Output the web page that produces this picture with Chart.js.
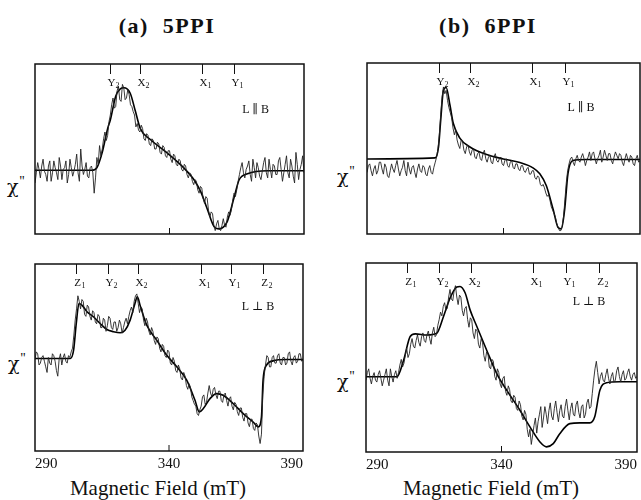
<!DOCTYPE html>
<html>
<head>
<meta charset="utf-8">
<script src="https://cdn.jsdelivr.net/npm/chart.js@4.4.1/dist/chart.umd.min.js"></script>
<style>
body { margin: 0; background: #fff; width: 641px; height: 500px; position: relative; overflow: hidden; font-family: "Liberation Serif", "DejaVu Serif", serif; color: #111; }
canvas { position: absolute; }
.lbl { position: absolute; text-align: center; white-space: pre; }
.title { font-size: 22px; font-weight: bold; line-height: 22px; width: 240px; letter-spacing: 1.5px; }
.xt { font-size: 21px; line-height: 22px; width: 240px; }
.chi { font-family: "DejaVu Serif", serif; font-size: 19px; line-height: 20px; text-align: left; color: #111; }
.chi span { font-family: "Liberation Serif", serif; font-size: 14px; vertical-align: 7px; margin-left: 1px; color: #111; }
</style>
</head>
<body>
<div class="lbl title" style="left:47px;top:15px">(a)  5PPI</div>
<div class="lbl title" style="left:368px;top:15px">(b)  6PPI</div>
<div class="lbl chi" style="left:7px;top:172px">χ<span>''</span></div>
<div class="lbl chi" style="left:8px;top:349px">χ<span>''</span></div>
<div class="lbl chi" style="left:337px;top:162px">χ<span>''</span></div>
<div class="lbl chi" style="left:337px;top:367px">χ<span>''</span></div>
<div class="lbl xt" style="left:38px;top:477px">Magnetic Field (mT)</div>
<div class="lbl xt" style="left:371px;top:477px">Magnetic Field (mT)</div>

<canvas id="aTop" width="271" height="192" style="left:34px;top:63px"></canvas>
<canvas id="aBot" width="276" height="208" style="left:31px;top:263px"></canvas>
<canvas id="bTop" width="275" height="193" style="left:366px;top:62px"></canvas>
<canvas id="bBot" width="279" height="210" style="left:362px;top:262px"></canvas>

<script>
// field grid of the measured spectra (mT)
const fields = [
  290,290.5,291,291.5,292,292.5,293,293.5,294,294.5,295,295.5,296,296.5,297,297.5,298,298.5,299,299.5,
  300,300.5,301,301.5,302,302.5,303,303.5,304,304.5,305,305.5,306,306.5,307,307.5,308,308.5,309,309.5,
  310,310.5,311,311.5,312,312.5,313,313.5,314,314.5,315,315.5,316,316.5,317,317.5,318,318.5,319,319.5,
  320,320.5,321,321.5,322,322.5,323,323.5,324,324.5,325,325.5,326,326.5,327,327.5,328,328.5,329,329.5,
  330,330.5,331,331.5,332,332.5,333,333.5,334,334.5,335,335.5,336,336.5,337,337.5,338,338.5,339,339.5,
  340,340.5,341,341.5,342,342.5,343,343.5,344,344.5,345,345.5,346,346.5,347,347.5,348,348.5,349,349.5,
  350,350.5,351,351.5,352,352.5,353,353.5,354,354.5,355,355.5,356,356.5,357,357.5,358,358.5,359,359.5,
  360,360.5,361,361.5,362,362.5,363,363.5,364,364.5,365,365.5,366,366.5,367,367.5,368,368.5,369,369.5,
  370,370.5,371,371.5,372,372.5,373,373.5,374,374.5,375,375.5,376,376.5,377,377.5,378,378.5,379,379.5,
  380,380.5,381,381.5,382,382.5,383,383.5,384,384.5,385,385.5,386,386.5,387,387.5,388,388.5,389,389.5,
  390];

// (a) 5PPI, L || B
const aTopMeasured = [
  30,36,42,38,33,40,44,37,35,31, 40,43,31,36,43,39,36,32,45,40,
  32,38,39,43,30,35,44,39,34,37, 41,47,36,31,50,40,35,38,42,34,
  33,39,40,36,24,33,45,41,52,46, 50,56,60,55,58,66,70,76,80,74,
  75,84,87,79,78,88,86,79,80,85, 82,76,75,72,70,63,65,61,60,64,
  62,56,55,59,58,53,52,56,55,50, 50,54,53,48,47,52,51,46,45,49,
  49,44,42,47,46,41,40,44,43,38, 37,41,40,35,33,36,35,31,29,32,
  31,26,24,28,27,21,18,22,21,14, 10,13,12,5,2,6,8,3,2,5,
  9,5,4,10,13,11,14,20,24,22, 26,31,35,39,42,36,33,38,40,43,
  35,31,44,39,33,42,39,34,32,37, 42,45,36,33,44,38,33,41,40,35,
  35,43,45,38,31,36,41,46,36,33, 44,40,34,30,48,41,32,38,41,46,
  36];
const aTopFitField = [290,311,313,315,317,318,320,321.7,323,325.4,327.3,329.2,332.9,339.1,345.3,349.1,351.6,354.1,356.5,358.5,360,361.5,364,365.9,369,376.4,390];
const aTopFitValue = [37.5,37.5,39,48,62,67,81,85.4,86,82.8,72.3,61.8,55.6,47.7,38.9,31.9,24.9,14.4,4.5,3,4,7.4,21.4,31.9,35.4,37.2,37.2];
const aTopMarkers = [318,329,352,364];
const aTopMarkerLabels = ['Y2','X2','X1','Y1'];

// (a) 5PPI, L _|_ B
const aBotMeasured = [
  49,53,52,46,47,50,51,48,45,42, 50,47,46,52,51,48,43,40,49,52,
  46,50,52,48,47,51,50,53,55,62, 70,76,83,80,76,81,80,73,72,78,
  77,72,70,75,74,69,68,73,72,66, 66,71,70,64,67,72,71,66,65,69,
  69,64,66,70,68,63,66,69,71,68, 72,75,77,74,80,83,84,79,74,77,
  76,70,67,71,69,64,62,66,64,59, 57,61,60,55,53,57,56,51,50,54,
  53,47,46,50,48,43,42,46,44,39, 38,42,40,35,33,36,34,29,27,25,
  24,20,19,22,24,29,30,25,26,31, 35,31,29,33,34,30,28,32,32,27,
  26,30,31,27,24,28,29,24,22,26, 25,21,19,23,23,18,16,20,20,15,
  13,17,17,12,11,15,14,8,4,9, 30,40,46,51,50,45,45,50,51,47,
  47,51,52,47,46,50,50,46,47,52, 53,48,46,50,51,47,48,52,52,48,
  49];
const aBotFitField = [290,303.2,304.4,305.4,306.4,307.5,309.4,311.8,314.3,316.8,319.3,321.8,323.6,325.5,327.3,328.2,329.2,331.7,335.4,339.1,342.9,346.6,349.7,351.3,352.8,355.3,357.7,360.2,363.9,367.7,371.4,373.3,374.5,375.1,376.4,378.8,383.8,390];
const aBotFitValue = [49.5,49.5,53.9,68.2,78.9,78,74.5,71.8,68.2,65,63.8,63.2,64.6,70,78.9,82.5,78,67.3,59.3,51.3,45,37.9,27.1,20.9,22.7,28,30.7,29.8,25.4,20,15.5,12.9,18.2,37.9,45.9,48.2,48.9,48.9];
const aBotMarkers = [305.4,317.2,328.6,351.8,363.3,375.1];
const aBotMarkerLabels = ['Z1','Y2','X2','X1','Y1','Z2'];

// (b) 6PPI, L || B
const bTopMeasured = [
  36,40,41,37,34,38,40,35,37,42, 42,38,35,41,39,34,33,37,41,38,
  36,40,43,38,34,37,39,43,37,34, 42,38,35,39,40,36,33,38,41,37,
  36,40,39,35,34,38,40,36,35,39, 42,45,50,58,70,80,86,82,84,78,
  74,71,68,62,58,61,55,52,50,55, 54,49,47,51,52,48,46,49,50,45,
  44,47,48,44,43,47,49,44,42,45, 46,42,41,45,47,43,42,44,45,41,
  40,43,44,40,39,42,43,39,38,41, 41,38,37,40,40,37,36,38,39,35,
  35,37,37,33,32,34,33,29,28,29, 27,24,22,23,20,16,14,12,10,6,
  4,2,2,5,10,20,30,37,41,44, 45,42,40,44,46,43,42,45,47,44,
  40,43,45,48,43,47,48,44,41,44, 46,49,42,45,49,46,43,47,47,43,
  41,45,48,46,44,47,46,42,40,44, 47,44,42,46,45,41,40,44,46,42,
  43];
const bTopFitField = [290,315,316.2,317,318,319,320.4,321.6,324,327.7,333.8,339.9,346,350.8,353.3,355.7,358.2,360,361.2,362.4,363.6,365.4,370.3,390];
const bTopFitValue = [43.9,44.5,50.9,66.6,84,85.7,75.3,64.8,56.1,50.9,46.5,43.9,41.8,38.7,35.2,28.2,14.3,3.8,3,14.3,35.2,43,43.6,43.6];
const bTopMarkers = [316.4,327.7,350.6,362.5];
const bTopMarkerLabels = ['Y2','X2','X1','Y1'];

// (b) 6PPI, L _|_ B
const bBotMeasured = [
  38,42,44,39,36,40,42,38,37,41, 43,39,35,38,41,44,38,35,44,40,
  37,41,43,39,42,46,49,45,47,51, 55,50,52,57,60,56,55,59,62,58,
  56,61,63,59,58,62,64,60,57,63, 66,61,62,67,70,74,72,77,79,75,
  76,82,86,81,80,85,88,82,78,83, 82,75,72,76,77,70,66,71,70,63,
  60,65,64,57,55,60,58,51,48,53, 52,45,44,49,48,40,38,44,42,36,
  34,39,40,32,30,35,33,27,26,30, 29,23,22,27,25,19,17,22,20,12,
  8,12,4,9,14,18,10,16,20,24, 13,18,24,20,15,22,26,19,17,23,
  27,21,16,22,25,19,18,24,28,22, 17,23,26,20,19,25,27,21,18,24,
  25,18,20,26,28,23,24,31,38,44, 48,42,36,40,42,38,37,41,44,39,
  36,40,42,37,38,43,45,40,37,41, 43,38,39,42,44,40,38,41,42,39,
  40];
const bBotFitField = [290,301.4,303.9,306.3,308.2,312.5,316.1,318.6,321,323.5,324.7,326.6,328.4,330.9,334.5,338.2,341.9,346.8,350.5,354.2,356.6,359.1,361.5,365.2,368.9,372.6,374.4,376.3,378.7,383.6,390];
const bBotFitValue = [39.8,39.8,48.7,61.1,62.5,61.9,62.8,71.7,81.4,87.3,87.6,84.1,75.2,66.4,54,41.6,32.7,22.1,13.3,5.3,2.7,4.4,9.7,15,15.4,15.4,18.6,32.7,36.6,37.2,37.2];
const bBotMarkers = [305.3,317,328.8,351.8,363.7,375.8];
const bBotMarkerLabels = ['Z1','Y2','X2','X1','Y1','Z2'];

const serif = '"Liberation Serif", "DejaVu Serif", serif';

// box, inner ticks, field markers and orientation label
const framePlugin = {
  id: 'frame',
  afterDatasetsDraw(chart, args, opts) {
    const { ctx, chartArea: a, scales: { x, y } } = chart;
    ctx.save();
    ctx.strokeStyle = '#111';
    ctx.fillStyle = '#111';
    ctx.lineWidth = 1.5;
    ctx.strokeRect(a.left, a.top, a.right - a.left, a.bottom - a.top);

    ctx.lineWidth = 1;
    const mid = x.getPixelForValue(340);
    ctx.beginPath(); ctx.moveTo(mid, a.bottom); ctx.lineTo(mid, a.bottom - 6); ctx.stroke();

    opts.markers.forEach((f, i) => {
      const mx = Math.round(x.getPixelForValue(f)) + 0.5;
      ctx.beginPath(); ctx.moveTo(mx, a.top); ctx.lineTo(mx, a.top + 10); ctx.stroke();
      const lab = opts.labels[i];
      ctx.font = '11px ' + serif;
      ctx.textAlign = 'center';
      ctx.textBaseline = 'alphabetic';
      ctx.fillText(lab[0], mx + 1, a.top + 22);
      ctx.font = '8px ' + serif;
      ctx.textAlign = 'left';
      ctx.fillText(lab[1], mx + 5, a.top + 24);
    });

    ctx.font = '12px ' + serif;
    ctx.textAlign = 'center';
    ctx.textBaseline = 'middle';
    ctx.fillText(opts.orient, x.getPixelForValue(opts.orientAt[0]), y.getPixelForValue(opts.orientAt[1]));
    ctx.restore();
  }
};

function makePanel(id, measured, fitField, fitValue, markers, labels, orient, orientAt, showAxis) {
  const pad = showAxis ? { left: 4, right: 4, top: 1, bottom: 0 } : { left: 1, right: 1, top: 1, bottom: 1 };
  new Chart(document.getElementById(id), {
    type: 'line',
    data: {
      datasets: [{
        data: fields.map((f, i) => ({ x: f, y: measured[i] })),
        borderColor: '#222',
        borderWidth: 0.9,
        pointRadius: 0,
        tension: 0
      }, {
        data: fitField.map((f, i) => ({ x: f, y: fitValue[i] })),
        borderColor: '#000',
        borderWidth: 1.6,
        pointRadius: 0,
        cubicInterpolationMode: 'monotone'
      }]
    },
    options: {
      responsive: false,
      animation: false,
      layout: { padding: pad },
      plugins: {
        legend: { display: false },
        tooltip: { enabled: false },
        frame: { markers, labels, orient, orientAt }
      },
      scales: {
        x: {
          type: 'linear',
          min: 290,
          max: 390,
          display: showAxis,
          grid: { display: false },
          border: { display: false },
          ticks: { stepSize: 50, align: 'inner', padding: -4, maxRotation: 0, color: '#111', font: { family: serif, size: 15 } },
          afterFit(s) { s.height = 20; }
        },
        y: { min: 0, max: 100, display: false }
      }
    },
    plugins: [framePlugin]
  });
}

makePanel('aTop', aTopMeasured, aTopFitField, aTopFitValue, aTopMarkers, aTopMarkerLabels, 'L \u2225 B', [372, 73], false);
makePanel('aBot', aBotMeasured, aBotFitField, aBotFitValue, aBotMarkers, aBotMarkerLabels, 'L \u22A5 B', [373.2, 77], true);
makePanel('bTop', bTopMeasured, bTopFitField, bTopFitValue, bTopMarkers, bTopMarkerLabels, 'L \u2225 B', [368.4, 73.8], false);
makePanel('bBot', bBotMeasured, bBotFitField, bBotFitValue, bBotMarkers, bBotMarkerLabels, 'L \u22A5 B', [372.3, 79.4], true);
</script>
</body>
</html>
